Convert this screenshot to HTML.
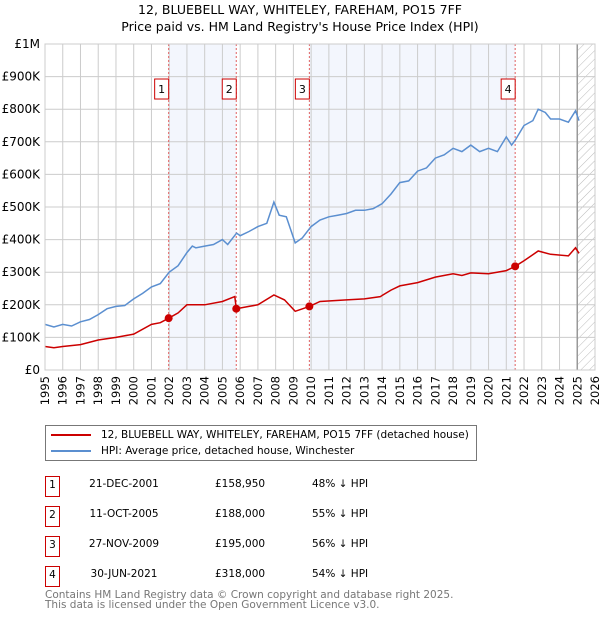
<!DOCTYPE html>
<html><head><meta charset="utf-8">
<style>
body{margin:0;background:#fff;font-family:"DejaVu Sans","Liberation Sans",sans-serif;}
#wrap{position:relative;width:600px;height:620px;overflow:hidden;}
svg text{font-family:"DejaVu Sans","Liberation Sans",sans-serif;}
</style></head>
<body>
<div id="wrap">
<svg id="chart" width="600" height="620">
<defs>
<pattern id="hatch" width="6" height="6" patternUnits="userSpaceOnUse" patternTransform="rotate(45)">
<line x1="0" y1="0" x2="0" y2="6" stroke="#bbb" stroke-width="1"/>
</pattern>
</defs>
<text x="300" y="14" text-anchor="middle" font-size="12.5">12, BLUEBELL WAY, WHITELEY, FAREHAM, PO15 7FF</text>
<text x="300" y="31" text-anchor="middle" font-size="12.5">Price paid vs. HM Land Registry's House Price Index (HPI)</text>
<g id="plot"></g>
</svg>
<div style="position:absolute;left:45px;top:425px;width:432px;height:36px;border:1px solid #777;box-sizing:border-box;font-size:10.5px;">
<div style="position:absolute;left:5px;top:3px;white-space:nowrap;"><span style="display:inline-block;width:40px;height:2px;background:#cc0000;vertical-align:middle;margin-right:10px"></span>12, BLUEBELL WAY, WHITELEY, FAREHAM, PO15 7FF (detached house)</div>
<div style="position:absolute;left:5px;top:19px;white-space:nowrap;"><span style="display:inline-block;width:40px;height:2px;background:#5b8fd0;vertical-align:middle;margin-right:10px"></span>HPI: Average price, detached house, Winchester</div>
</div>
<div id="table" style="font-size:10.5px;"></div>
<div style="position:absolute;left:45px;top:590px;font-size:10.5px;color:#777;line-height:10px;">Contains HM Land Registry data © Crown copyright and database right 2025.<br>This data is licensed under the Open Government Licence v3.0.</div>
</div>
<script>
const hpiYears=[1995,1995.5,1996,1996.5,1997,1997.5,1998,1998.5,1999,1999.5,2000,2000.5,2001,2001.5,2002,2002.5,2003,2003.3,2003.5,2004,2004.5,2005,2005.3,2005.8,2006,2006.5,2007,2007.5,2007.9,2008.2,2008.6,2009.1,2009.5,2010,2010.5,2011,2011.5,2012,2012.5,2013,2013.5,2014,2014.5,2015,2015.5,2016,2016.5,2017,2017.5,2018,2018.5,2019,2019.5,2020,2020.5,2021,2021.3,2021.5,2022,2022.5,2022.8,2023.2,2023.5,2024,2024.5,2024.9,2025.1];
const hpiValues=[140,132,140,135,148,155,170,188,195,198,218,235,255,265,300,320,360,380,375,380,385,400,385,420,412,425,440,450,515,475,470,390,405,440,460,470,475,480,490,490,495,510,540,575,580,610,620,650,660,680,670,690,670,680,670,715,690,705,750,765,800,790,770,770,760,795,765];
const redYears=[1995,1995.5,1996,1997,1998,1999,1999.5,2000,2001,2001.5,2001.97,2002.5,2003,2004,2005,2005.7,2005.78,2006.5,2007,2007.9,2008.5,2009.1,2009.9,2010.5,2012,2013,2013.9,2014.5,2015,2016,2017,2018,2018.5,2019,2020,2021,2021.5,2022,2022.8,2023.5,2024.5,2024.9,2025.1];
const redValues=[72,68,72,78,92,100,105,110,140,145,159,175,200,200,210,225,188,195,200,230,215,180,195,210,215,218,225,245,258,268,285,295,290,298,295,305,318,335,365,355,350,375,358];
const saleLabels=["1","2","3","4"];
const saleYears=[2001.97,2005.78,2009.9,2021.5];
const salePrices=[158.95,188,195,318];
const saleDates=["21-DEC-2001","11-OCT-2005","27-NOV-2009","30-JUN-2021"];
const salePriceText=["£158,950","£188,000","£195,000","£318,000"];
const saleHpiText=["48% ↓ HPI","55% ↓ HPI","56% ↓ HPI","54% ↓ HPI"];
const yTicks=[0,100,200,300,400,500,600,700,800,900,1000];
const yTickLabels=["£0","£100K","£200K","£300K","£400K","£500K","£600K","£700K","£800K","£900K","£1M"];
const xStart=1995,xEnd=2026;

const L=45,R=595,T=44,B=370;
const X=v=>L+(v-xStart)/(xEnd-xStart)*(R-L);
const Y=v=>B-v/1000*(B-T);
const NS="http://www.w3.org/2000/svg";
const g=document.getElementById('plot');
function mk(tag,attrs,parent){const e=document.createElementNS(NS,tag);for(const k in attrs)e.setAttribute(k,attrs[k]);(parent||g).appendChild(e);return e;}

let e;
e=mk('rect',{x:X(saleYears[0]),y:T,width:X(saleYears[1])-X(saleYears[0]),height:B-T,fill:'#f3f6fd'});


e=mk('rect',{x:X(saleYears[2]),y:T,width:X(saleYears[3])-X(saleYears[2]),height:B-T,fill:'#f3f6fd'});


e=mk('rect',{x:X(2025),y:T,width:R-X(2025),height:B-T,fill:'url(#hatch)'});



for(let yr=xStart;yr<=xEnd;yr++){
 e=mk('line',{x1:X(yr),x2:X(yr),y1:T,y2:B,stroke:'#ccc','stroke-width':1});
 
 
 e=mk('text',{x:0,y:0,'font-size':11.5,'text-anchor':'end',transform:`translate(${X(yr)+4},${B+6}) rotate(-90)`});
 e.textContent=String(yr);
 
 
}
yTicks.forEach((v,i)=>{
 e=mk('line',{x1:L,x2:R,y1:Y(v),y2:Y(v),stroke:'#ccc','stroke-width':1});
 
 
 e=mk('text',{x:40,y:Y(v)+4,'font-size':12,'text-anchor':'end'});
 e.textContent=yTickLabels[i];
 
 
});
e=mk('line',{x1:X(2025),x2:X(2025),y1:T,y2:B,stroke:'#999','stroke-width':1.5});



saleYears.forEach((s,i)=>{
 e=mk('line',{x1:X(s),x2:X(s),y1:T,y2:B,stroke:'#e06060','stroke-width':1,'stroke-dasharray':'2,2'});
 
 
});

function path(xs,ys){return xs.map((x,i)=>(i?'L':'M')+X(x).toFixed(1)+','+Y(ys[i]).toFixed(1)).join(' ');}
e=mk('path',{d:path(hpiYears,hpiValues),fill:'none',stroke:'#5b8fd0','stroke-width':1.5});


e=mk('path',{d:path(redYears,redValues),fill:'none',stroke:'#cc0000','stroke-width':1.5});



saleYears.forEach((s,i)=>{
 e=mk('circle',{cx:X(s),cy:Y(salePrices[i]),r:4,fill:'#cc0000'});
 
 
 const bx=X(s)-14;
 e=mk('rect',{x:bx,y:Y(865)-9,width:14,height:20,fill:'#fff',stroke:'#cc0000','stroke-width':1});
 
 
 e=mk('text',{x:bx+7,y:Y(865)+5,'font-size':11,'text-anchor':'middle'});
 e.textContent=saleLabels[i];
 
 
});
e=mk('rect',{x:L,y:T,width:R-L,height:B-T,fill:'none',stroke:'#ccc'});



const tb=document.getElementById('table');
saleLabels.forEach((lab,i)=>{
 const top=476+i*30;
 const row=document.createElement('div');
 
 
 row.style.cssText=`position:absolute;left:0;top:${top}px;width:600px;height:20px;`;
 row.innerHTML=`<div style="position:absolute;left:45px;top:0;width:13px;height:19px;border:1px solid #cc0000;text-align:center;line-height:16px;">${lab}</div>`+
 `<div style="position:absolute;left:78px;width:92px;text-align:center;top:2px">${saleDates[i]}</div>`+
 `<div style="position:absolute;left:215px;top:2px">${salePriceText[i]}</div>`+
 `<div style="position:absolute;left:312px;top:2px">${saleHpiText[i]}</div>`;
 tb.appendChild(row);
});
</script>
</body></html>
